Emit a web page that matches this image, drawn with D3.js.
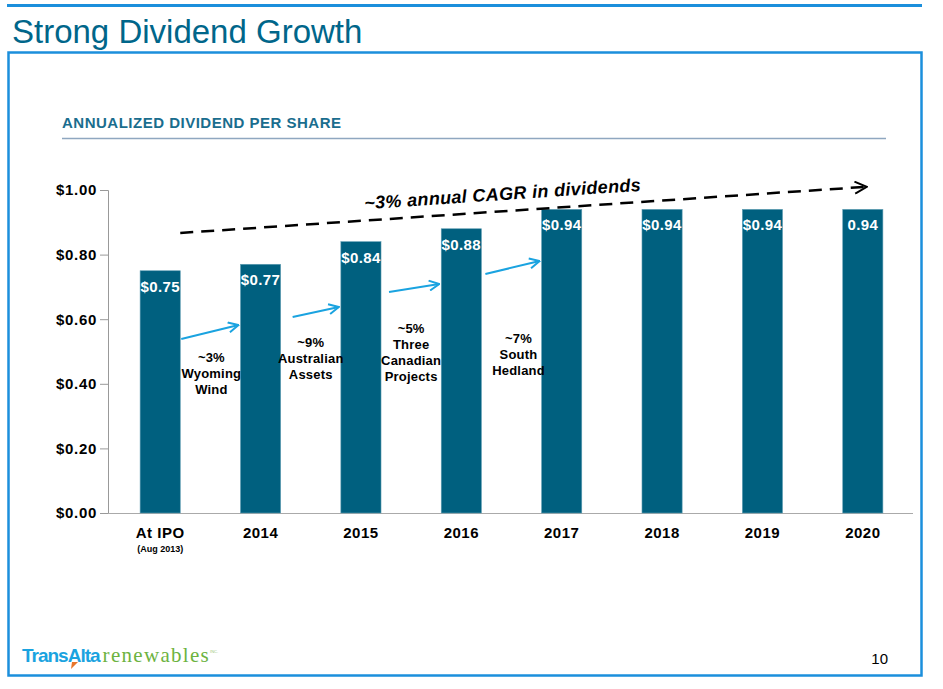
<!DOCTYPE html>
<html><head><meta charset="utf-8">
<script src="https://cdn.jsdelivr.net/npm/d3@7"></script>
<style>body{margin:0;background:#fff;}svg{display:block;font-family:"Liberation Sans",Arial,sans-serif;}</style>
</head><body>
<svg id="c" width="943" height="689"></svg>
<script>
const categories = ["At IPO","2014","2015","2016","2017","2018","2019","2020"];
const values = [0.75,0.77,0.84,0.88,0.94,0.94,0.94,0.94];
const valueLabels = ["$0.75","$0.77","$0.84","$0.88","$0.94","$0.94","$0.94","0.94"];
const yTicks = [0,0.2,0.4,0.6,0.8,1.0];
const growthNotes = [
  {from:0, lines:["~3%","Wyoming","Wind"]},
  {from:1, lines:["~9%","Australian","Assets"]},
  {from:2, lines:["~5%","Three","Canadian","Projects"]},
  {from:3, lines:["~7%","South","Hedland"]}
];
const cagrStart = 0.87, cagrEnd = 1.01;

const svg = d3.select("#c");
const barColor = "#00607f";

// Frame
svg.append("rect").attr("x",7).attr("y",4).attr("width",915).attr("height",3).attr("fill","#1b8fdc");
svg.append("rect").attr("x",8.5).attr("y",52.5).attr("width",913).attr("height",623).attr("fill","none").attr("stroke","#1b8fdc").attr("stroke-width",2.5);
svg.append("text").attr("x",12).attr("y",43).attr("font-size",33).attr("fill","#00668a").text("Strong Dividend Growth");

svg.append("text").attr("x",62).attr("y",128).attr("font-size",15).attr("letter-spacing","0.5").attr("font-weight","bold").attr("fill","#1a6d8e").text("ANNUALIZED DIVIDEND PER SHARE");
svg.append("line").attr("x1",62).attr("x2",886).attr("y1",138.5).attr("y2",138.5).attr("stroke","#8fa7c0").attr("stroke-width",1.5);

const x = d3.scaleBand().domain(categories).range([110,913]).paddingInner(0.6).paddingOuter(0.3);
const y = d3.scaleLinear().domain([0,1]).range([513,190]);

// Y axis
const yAxis = svg.append("g").attr("transform","translate(108,0)")
  .call(d3.axisLeft(y).tickValues(yTicks).tickSize(8).tickFormat(d=>"$"+d3.format(".2f")(d)));
yAxis.select(".domain").attr("stroke","#999").attr("d","M-8,190.5H0.5V513.5");
yAxis.selectAll(".tick line").attr("stroke","#999");
yAxis.selectAll("text").attr("font-size",15).attr("letter-spacing","0.7").attr("font-weight","bold").attr("fill","#000").attr("x",-11).attr("font-family","Liberation Sans, Arial, sans-serif");

// X axis line
svg.append("line").attr("x1",108).attr("x2",913).attr("y1",513.5).attr("y2",513.5).attr("stroke","#aaa").attr("stroke-width",1.2);

// Bars
svg.selectAll("rect.bar").data(values).join("rect").attr("class","bar")
  .attr("x",(d,i)=>x(categories[i])).attr("width",x.bandwidth())
  .attr("y",d=>y(d)).attr("height",d=>y(0)-y(d)).attr("fill",barColor)
  .attr("stroke","#5f9db3").attr("stroke-width",0.6);

svg.selectAll("text.vl").data(values).join("text").attr("class","vl")
  .attr("x",(d,i)=>x(categories[i])+x.bandwidth()/2).attr("y",d=>y(d)+21)
  .attr("text-anchor","middle").attr("font-size",15).attr("letter-spacing","0.4").attr("font-weight","bold").attr("fill","#fff")
  .text((d,i)=>valueLabels[i]);

// Category labels
svg.selectAll("text.cat").data(categories).join("text").attr("class","cat")
  .attr("x",d=>x(d)+x.bandwidth()/2).attr("y",538).attr("text-anchor","middle")
  .attr("font-size",15).attr("letter-spacing","0.5").attr("font-weight","bold").attr("fill","#000").text(d=>d);
svg.append("text").attr("x",x(categories[0])+x.bandwidth()/2).attr("y",552).attr("text-anchor","middle")
  .attr("font-size",9).attr("font-weight","bold").attr("fill","#000").text("(Aug 2013)");

// Growth arrows
const defs = svg.append("defs");
defs.append("marker").attr("id","ba").attr("viewBox","0 0 12 12").attr("refX",11).attr("refY",6)
  .attr("markerWidth",12).attr("markerHeight",12).attr("markerUnits","userSpaceOnUse").attr("orient","auto")
  .append("path").attr("d","M1,1L11,6L1,11").attr("fill","none").attr("stroke","#1aa3e0").attr("stroke-width",2);
defs.append("marker").attr("id","ka").attr("viewBox","0 0 14 14").attr("refX",13).attr("refY",7)
  .attr("markerWidth",14).attr("markerHeight",14).attr("markerUnits","userSpaceOnUse").attr("orient","auto")
  .append("path").attr("d","M1,1L13,7L1,13").attr("fill","none").attr("stroke","#000").attr("stroke-width",2);

growthNotes.forEach(n=>{
  const a = categories[n.from], b = categories[n.from+1];
  const x0 = x(a)+x.bandwidth()+1, x1 = x(b)-2;
  const y0 = [339,317,292,274][n.from], y1 = [325,307,284,261][n.from];
  const sx = x0 + [0,11,7,3][n.from];
  svg.append("line").attr("x1",sx).attr("y1",y0).attr("x2",x1).attr("y2",y1)
    .attr("stroke","#1aa3e0").attr("stroke-width",2).attr("marker-end","url(#ba)");
  const cx = (x(a)+x.bandwidth()+x(b))/2 + [1,0,0,7][n.from];
  const ty = [362,347,333,343][n.from];
  const t = svg.append("text").attr("text-anchor","middle").attr("font-size",13).attr("letter-spacing","0.2").attr("font-weight","bold").attr("fill","#000");
  n.lines.forEach((l,k)=>t.append("tspan").attr("x",cx).attr("y",ty+k*16).text(l));
});

// CAGR dashed line
const cx0 = x(categories[0])+x.bandwidth()+0, cx1 = x(categories[7])+x.bandwidth()/2+4;
const cy0 = y(cagrStart)+1, cy1 = y(cagrEnd)+0;
svg.append("line").attr("x1",cx0).attr("y1",cy0).attr("x2",cx1).attr("y2",cy1)
  .attr("stroke","#000").attr("stroke-width",2.5).attr("stroke-dasharray","13,8").attr("marker-end","url(#ka)");
const ang = Math.atan2(cy1-cy0, cx1-cx0)*180/Math.PI;
svg.append("text").attr("transform",`translate(503,200) rotate(${ang})`).attr("text-anchor","middle")
  .attr("font-size",18).attr("letter-spacing","0.35").attr("font-weight","bold").attr("font-style","italic").attr("fill","#000")
  .text("~3% annual CAGR in dividends");

// Footer
const logo = svg.append("text").attr("x",22).attr("y",662).attr("font-size",19);
logo.append("tspan").attr("font-weight","bold").attr("fill","#1aa3e0").attr("letter-spacing","-1").text("TransAlta");
logo.append("tspan").attr("fill","#6db33f").attr("font-family","Liberation Serif, serif").attr("font-size",21).attr("letter-spacing","1.3").attr("dx",3).text("renewables");
logo.append("tspan").attr("fill","#9ac87a").attr("font-size",4).attr("dy",-9).text("INC.");
svg.append("path").attr("d","M72,662L78,662L71,669Z").attr("fill","#e8762b");
svg.append("text").attr("x",888).attr("y",664).attr("text-anchor","end").attr("font-size",15).attr("fill","#000").text("10");
</script>
</body></html>
